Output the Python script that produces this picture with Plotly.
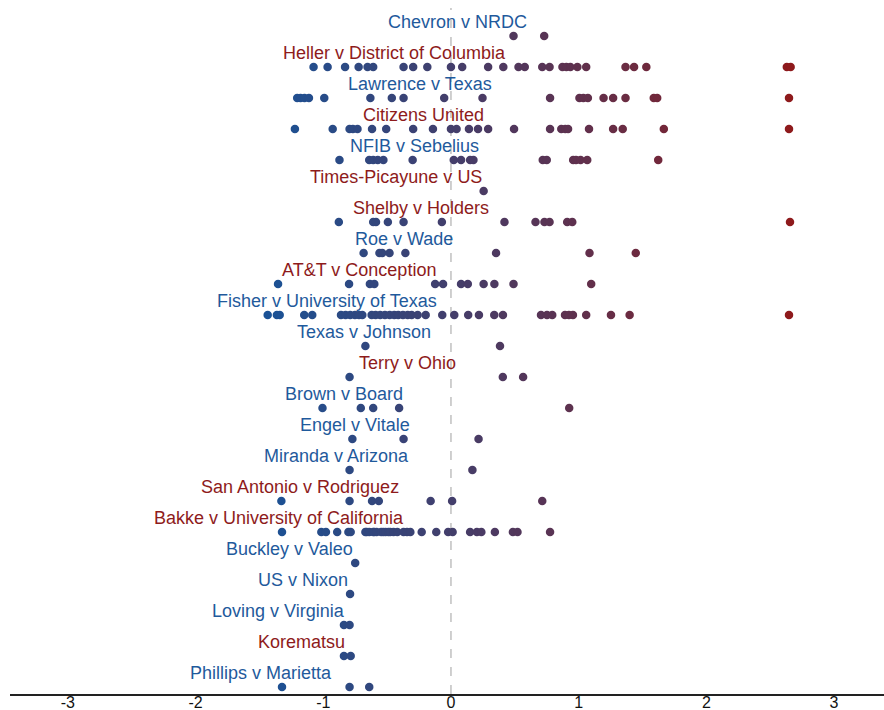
import numpy as np
import plotly.graph_objects as go

# Cases, listed from top to bottom
cases = [
    "Chevron v NRDC", "Heller v District of Columbia", "Lawrence v Texas",
    "Citizens United", "NFIB v Sebelius", "Times-Picayune v US",
    "Shelby v Holders", "Roe v Wade", "AT&T v Conception",
    "Fisher v University of Texas", "Texas v Johnson", "Terry v Ohio",
    "Brown v Board", "Engel v Vitale", "Miranda v Arizona",
    "San Antonio v Rodriguez", "Bakke v University of California",
    "Buckley v Valeo", "US v Nixon", "Loving v Virginia", "Korematsu",
    "Phillips v Marietta",
]

# Label colour group for each case (L = blue, C = red)
label_group = ["L", "C", "L", "C", "L", "C", "C", "L", "C", "L", "L", "C",
               "L", "L", "L", "C", "C", "L", "L", "L", "C", "L"]

chevron = [0.49, 0.73]
heller = [-1.076, -0.966, -0.829, -0.723, -0.653, -0.609, -0.371, -0.296,
          -0.185, 0.0, 0.088, 0.291, 0.41, 0.529, 0.578, 0.715, 0.772, 0.873,
          0.904, 0.935, 0.99, 1.059, 1.367, 1.434, 1.53, 2.63, 2.66]
lawrence = [-1.204, -1.178, -1.147, -1.112, -0.992, -0.631, -0.463, -0.371,
            -0.053, 0.247, 0.776, 1.006, 1.037, 1.072, 1.195, 1.27, 1.367,
            1.588, 1.615, 2.647]
citizens = [-1.222, -0.926, -0.794, -0.768, -0.732, -0.618, -0.507, -0.296,
            -0.141, 0.0, 0.044, 0.141, 0.212, 0.291, 0.494, 0.776, 0.864,
            0.895, 0.917, 1.081, 1.27, 1.345, 1.667, 2.647]
nfib = [-0.873, -0.64, -0.609, -0.573, -0.529, -0.3, 0.022, 0.079, 0.15,
        0.176, 0.719, 0.75, 0.957, 0.979, 1.015, 1.067, 1.623]
times_picayune = [0.256]
shelby = [-0.878, -0.609, -0.587, -0.494, -0.371, -0.071, 0.419, 0.662, 0.732,
          0.772, 0.91, 0.95, 2.655]
roe = [-0.684, -0.56, -0.538, -0.481, -0.357, 0.353, 1.085, 1.447]
att = [-1.354, -0.798, -0.635, -0.6, -0.124, -0.062, 0.079, 0.132, 0.256,
       0.34, 0.49, 1.098]
fisher = [-1.435, -1.363, -1.341, -1.149, -1.086, -0.861, -0.825, -0.789,
          -0.752, -0.72, -0.694, -0.621, -0.59, -0.554, -0.517, -0.48, -0.444,
          -0.413, -0.376, -0.339, -0.308, -0.261, -0.198, -0.068, 0.026,
          0.135, 0.219, 0.339, 0.407, 0.705, 0.752, 0.793, 0.893, 0.924,
          0.955, 1.059, 1.253, 1.399, 2.647]
texas_johnson = [-0.67, 0.384]
terry = [-0.794, 0.406, 0.565]
brown = [-1.006, -0.706, -0.609, -0.406, 0.926]
engel = [-0.772, -0.371, 0.216]
miranda = [-0.794, 0.168]
san_antonio = [-1.328, -0.794, -0.618, -0.565, -0.159, 0.009, 0.715]
bakke = [-1.323, -1.015, -0.979, -0.891, -0.803, -0.785, -0.67, -0.66, -0.64,
         -0.609, -0.6, -0.582, -0.547, -0.53, -0.512, -0.49, -0.476, -0.45,
         -0.42, -0.371, -0.344, -0.318, -0.229, -0.115, -0.022, 0.013, 0.15,
         0.203, 0.238, 0.344, 0.485, 0.521, 0.776]
buckley = [-0.75]
nixon = [-0.79]
loving = [-0.838, -0.794]
korematsu = [-0.838, -0.785]
phillips = [-1.323, -0.794, -0.64]

scores = [chevron, heller, lawrence, citizens, nfib, times_picayune, shelby,
          roe, att, fisher, texas_johnson, terry, brown, engel, miranda,
          san_antonio, bakke, buckley, nixon, loving, korematsu, phillips]

tick_vals = [-3, -2, -1, 0, 1, 2, 3]
tick_text = ["-3", "-2", "-1", "0", "1", "2", "3"]

BLUE = "#1f5a9c"
RED = "#8e1b1b"
label_colors = {"L": BLUE, "C": RED}

n = len(cases)
xs, ys = [], []
for i, vals in enumerate(scores):
    row = n - 1 - i
    xs.extend(vals)
    ys.extend([row] * len(vals))

fig = go.Figure()
fig.add_trace(go.Scatter(
    x=xs, y=ys, mode="markers",
    marker=dict(size=8.5, color=xs, cmin=-1.45, cmax=2.65,
                colorscale=[[0, "#1a5296"], [1, "#8e1a1c"]],
                showscale=False, line=dict(width=0)),
    hoverinfo="x", showlegend=False,
))

# Case names, right-aligned at each case's mean score
for i, (name, vals) in enumerate(zip(cases, scores)):
    row = n - 1 - i
    fig.add_annotation(
        x=float(np.mean(vals)), y=row + 0.45, text=name, showarrow=False,
        xanchor="right", yanchor="middle",
        font=dict(family="Liberation Sans, Arial, sans-serif", size=18,
                  color=label_colors[label_group[i]]),
    )

fig.add_shape(type="line", x0=0, x1=0, y0=0, y1=1, xref="x", yref="paper",
              line=dict(color="#c0c0c0", width=1.5, dash="dash"), layer="below")

fig.update_layout(
    width=884, height=710,
    margin=dict(l=10, r=0, t=8, b=16, autoexpand=False),
    plot_bgcolor="white", paper_bgcolor="white",
    xaxis=dict(range=[-3.453, 3.391], tickvals=tick_vals, ticktext=tick_text,
               showgrid=False, zeroline=False, showline=True,
               linecolor="#222222", linewidth=1.5, ticks="", ticklen=0,
               automargin=False, ticklabelstandoff=-7,
               tickfont=dict(family="Liberation Sans, Arial, sans-serif",
                             size=16, color="#111111")),
    yaxis=dict(range=[-0.226, 21.9], visible=False, showgrid=False,
               zeroline=False, automargin=False),
)

fig.write_html("out.html")
